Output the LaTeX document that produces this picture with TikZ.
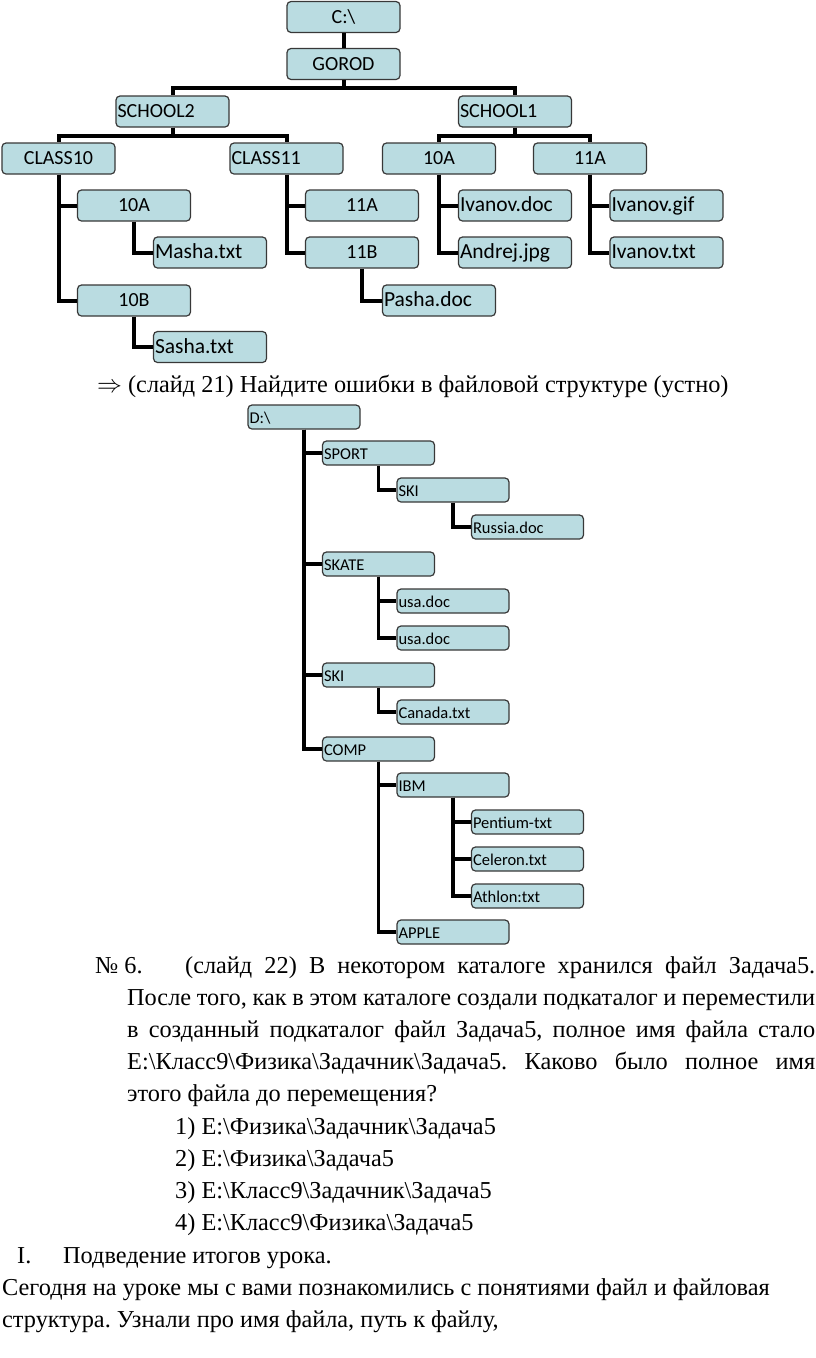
\documentclass[tikz,border=0pt]{standalone}
\usepackage{fontspec}
\setmainfont{Liberation Serif}
\newfontfamily\boxfont{Carlito}
\usetikzlibrary{positioning,calc}
\definecolor{boxfill}{HTML}{BADCE1}
\definecolor{boxline}{HTML}{383838}
\frenchspacing

\begin{document}
\begin{tikzpicture}[x=1pt, y=-1pt,
  dirbox/.style={rectangle, draw=boxline, line width=1.2pt, rounded corners=4pt, fill=boxfill,
    minimum width=113pt, minimum height=31pt, inner sep=0pt, text height=12pt, text depth=0pt,
    font=\boxfont\fontsize{20}{24}\selectfont},
  leftbox/.style={dirbox, inner xsep=1.5pt,
    execute at begin node={\hbox to 110pt\bgroup}, execute at end node={\hfil\egroup}},
  filebox/.style={leftbox, font=\boxfont\fontsize{21.5}{25}\selectfont},
  smallbox/.style={dirbox, minimum width=112pt, minimum height=24pt, inner xsep=1.5pt,
    text height=13pt, text depth=0pt, font=\boxfont\fontsize{16.5}{19}\selectfont,
    execute at begin node={\hbox to 109pt\bgroup}, execute at end node={\hfil\egroup}},
  link/.style={line width=4pt, black},
  thinlink/.style={line width=3.6pt, black},
  txt/.style={anchor=base west, inner sep=0pt, font=\fontsize{24.3}{28}\selectfont}
]
  \useasboundingbox (0,0) rectangle (816,1358);

  % tree on C:
  \node[dirbox] (croot) at (343.5,17) {C:\textbackslash};
  \node[dirbox] (gorod) at (343.5,64) {GOROD};
  \node[leftbox] (school2) at (172.5,111.5) {SCHOOL2};
  \node[leftbox] (school1) at (515,111.5) {SCHOOL1};
  \node[dirbox] (class10) at (58.5,158.5) {CLASS10};
  \node[leftbox] (class11) at (286.5,158.5) {CLASS11};
  \node[dirbox] (tenAr) at (439,158.5) {10A};
  \node[dirbox] (elevenAr) at (590,158.5) {11A};
  \node[dirbox] (tenA) at (134,205.5) {10A};
  \node[filebox] (masha) at (210,252.5) {Masha.txt};
  \node[dirbox] (tenB) at (134,300.5) {10B};
  \node[filebox] (sasha) at (210,347) {Sasha.txt};
  \node[dirbox] (elevenA) at (362,205.5) {11A};
  \node[dirbox] (elevenB) at (362,252.5) {11B};
  \node[filebox] (pasha) at (439,300.5) {Pasha.doc};
  \node[filebox] (ivdoc) at (515,205.5) {Ivanov.doc};
  \node[filebox] (andrej) at (515,252.5) {Andrej.jpg};
  \node[filebox] (ivgif) at (666.5,205.5) {Ivanov.gif};
  \node[filebox] (ivtxt) at (666.5,252.5) {Ivanov.txt};

  \draw[link] (croot) -- (gorod);
  \draw[link] (gorod.south) -- ++(0,8) -| (school2.north);
  \draw[link] (gorod.south) -- ++(0,8) -| (school1.north);
  \draw[link] (school2.south) -- ++(0,8) -| (class10.north);
  \draw[link] (school2.south) -- ++(0,8) -| (class11.north);
  \draw[link] (school1.south) -- ++(0,8) -| (tenAr.north);
  \draw[link] (school1.south) -- ++(0,8) -| (elevenAr.north);
  \draw[link] (class10.south) |- (tenA.west);
  \draw[link] (class10.south) |- (tenB.west);
  \draw[link] (tenA.south) |- (masha.west);
  \draw[link] (tenB.south) |- (sasha.west);
  \draw[link] (class11.south) |- (elevenA.west);
  \draw[link] (class11.south) |- (elevenB.west);
  \draw[link] (elevenB.south) |- (pasha.west);
  \draw[link] (tenAr.south) |- (ivdoc.west);
  \draw[link] (tenAr.south) |- (andrej.west);
  \draw[link] (elevenAr.south) |- (ivgif.west);
  \draw[link] (elevenAr.south) |- (ivtxt.west);

  \node[txt] (task21) at (97,392) {$\Rightarrow$ (слайд 21) Найдите ошибки в файловой структуре (устно)};

  % tree on D:
  \node[smallbox] (droot) at (304,417) {D:\textbackslash};
  \node[smallbox] (sport) at (378.5,453) {SPORT};
  \node[smallbox] (skiA) at (453,490) {SKI};
  \node[smallbox] (russia) at (527.5,527) {Russia.doc};
  \node[smallbox] (skate) at (378.5,564) {SKATE};
  \node[smallbox] (usaA) at (453,601) {usa.doc};
  \node[smallbox] (usaB) at (453,638) {usa.doc};
  \node[smallbox] (skiB) at (378.5,675) {SKI};
  \node[smallbox] (canada) at (453,712) {Canada.txt};
  \node[smallbox] (comp) at (378.5,749) {COMP};
  \node[smallbox] (ibm) at (453,785) {IBM};
  \node[smallbox] (pentium) at (527.5,822) {Pentium-txt};
  \node[smallbox] (celeron) at (527.5,859) {Celeron.txt};
  \node[smallbox] (athlon) at (527.5,896) {Athlon:txt};
  \node[smallbox] (apple) at (453,932) {APPLE};

  \draw[thinlink] (droot.south) |- (sport.west);
  \draw[thinlink] (droot.south) |- (skate.west);
  \draw[thinlink] (droot.south) |- (skiB.west);
  \draw[thinlink] (droot.south) |- (comp.west);
  \draw[thinlink] (sport.south) |- (skiA.west);
  \draw[thinlink] (skiA.south) |- (russia.west);
  \draw[thinlink] (skate.south) |- (usaA.west);
  \draw[thinlink] (skate.south) |- (usaB.west);
  \draw[thinlink] (skiB.south) |- (canada.west);
  \draw[thinlink] (comp.south) |- (ibm.west);
  \draw[thinlink] (comp.south) |- (apple.west);
  \draw[thinlink] (ibm.south) |- (pentium.west);
  \draw[thinlink] (ibm.south) |- (celeron.west);
  \draw[thinlink] (ibm.south) |- (athlon.west);

  % task 6
  \node[txt] (num6) at (95,973) {№ 6.};
  \node[txt] (lineA) at (185,973) {\makebox[630pt][s]{(слайд 22) В некотором каталоге хранился файл Задача5.}};
  \node[txt] (lineB) at (127,1005) {\makebox[688pt][s]{После того, как в этом каталоге создали подкаталог и переместили}};
  \node[txt] (lineC) at (127,1037) {\makebox[688pt][s]{в созданный подкаталог файл Задача5, полное имя файла стало}};
  \node[txt] (lineD) at (127,1069) {\makebox[688pt][s]{E:\textbackslash Класс9\textbackslash Физика\textbackslash Задачник\textbackslash Задача5. Каково было полное имя}};
  \node[txt] (lineE) at (127,1101) {этого файла до перемещения?};
  \node[txt] (ans1) at (175,1134) {1) E:\textbackslash Физика\textbackslash Задачник\textbackslash Задача5};
  \node[txt] (ans2) at (175,1166) {2) E:\textbackslash Физика\textbackslash Задача5};
  \node[txt] (ans3) at (175,1198) {3) E:\textbackslash Класс9\textbackslash Задачник\textbackslash Задача5};
  \node[txt] (ans4) at (175,1230) {4) E:\textbackslash Класс9\textbackslash Физика\textbackslash Задача5};
  \node[txt] (numI) at (17,1263) {I.};
  \node[txt] (summary) at (63,1263) {Подведение итогов урока.};
  \node[txt] (lineF) at (2,1295) {Сегодня на уроке мы с вами познакомились с понятиями файл и файловая};
  \node[txt] (lineG) at (2,1327) {структура. Узнали про имя файла, путь к файлу,};
\end{tikzpicture}
\end{document}
